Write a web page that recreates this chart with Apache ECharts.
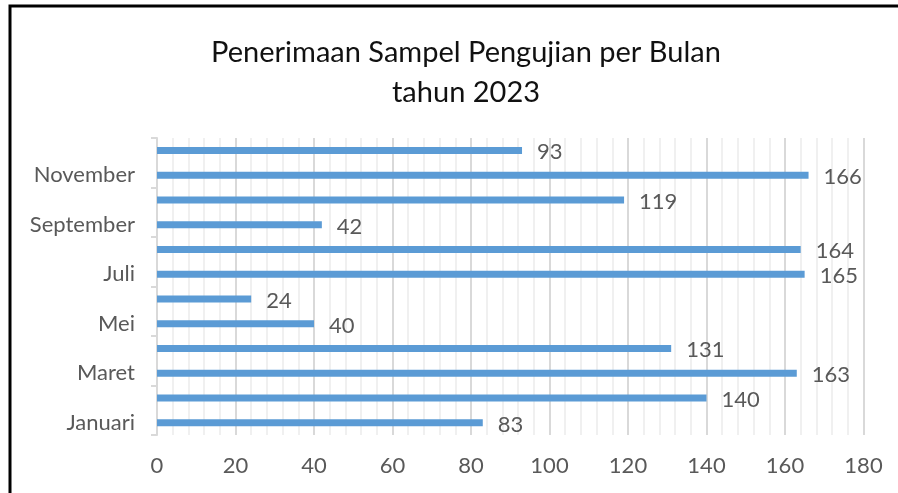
<!DOCTYPE html>
<html><head><meta charset="utf-8">
<script src="https://cdn.jsdelivr.net/npm/echarts@6/dist/echarts.min.js"></script>
<style>html,body{margin:0;padding:0;background:#fff}#c{width:898px;height:493px}</style>
</head><body><div id="c"></div>
<script>
const titleLines = ["Penerimaan Sampel Pengujian per Bulan", "tahun 2023"];
const months = ["Januari","Februari","Maret","April","Mei","Juni","Juli","Agustus","September","Oktober","November","Desember"];
const values = [83,140,163,131,40,24,165,164,42,119,166,93];
const xTicks = {min:0, max:180, interval:20};

const chart = echarts.init(document.getElementById('c'));
const font = 'Lato, "Noto Sans", sans-serif';
chart.setOption({
  animation:false,
  title:{text:titleLines.join('\n'), left:461, top:28, textAlign:'center',
    textStyle:{fontFamily:font, fontSize:29, fontWeight:'normal', color:'#111', lineHeight:40}},
  graphic:[{type:'rect', shape:{x:10,y:6,width:1000,height:1000}, style:{fill:'none', stroke:'#000', lineWidth:3}, z:-1}],
  grid:{left:157, right:34.5, top:138, bottom:58},
  xAxis:{type:'value', min:xTicks.min, max:xTicks.max, interval:xTicks.interval,
    axisLine:{show:false}, axisTick:{show:false},
    axisLabel:{fontFamily:font, fontSize:22, color:'#595959', margin:20},
    splitLine:{lineStyle:{color:'#d9d9d9', width:2}},
    minorTick:{show:false, splitNumber:5},
    minorSplitLine:{show:true, lineStyle:{color:'#f0f0f0', width:2}}},
  yAxis:{type:'category', data:months,
    axisLine:{lineStyle:{color:'#d9d9d9', width:2}},
    axisTick:{show:true, length:6, lineStyle:{color:'#d9d9d9', width:2}},
    axisLabel:{interval:1, fontFamily:font, fontSize:22, color:'#595959', margin:22}},
  series:[{type:'bar', data:values, barWidth:7, itemStyle:{color:'#5b9bd5'},
    label:{show:true, position:'right', distance:15, offset:[0,2], fontFamily:font, fontSize:22, color:'#595959'}}]
});
</script></body></html>
